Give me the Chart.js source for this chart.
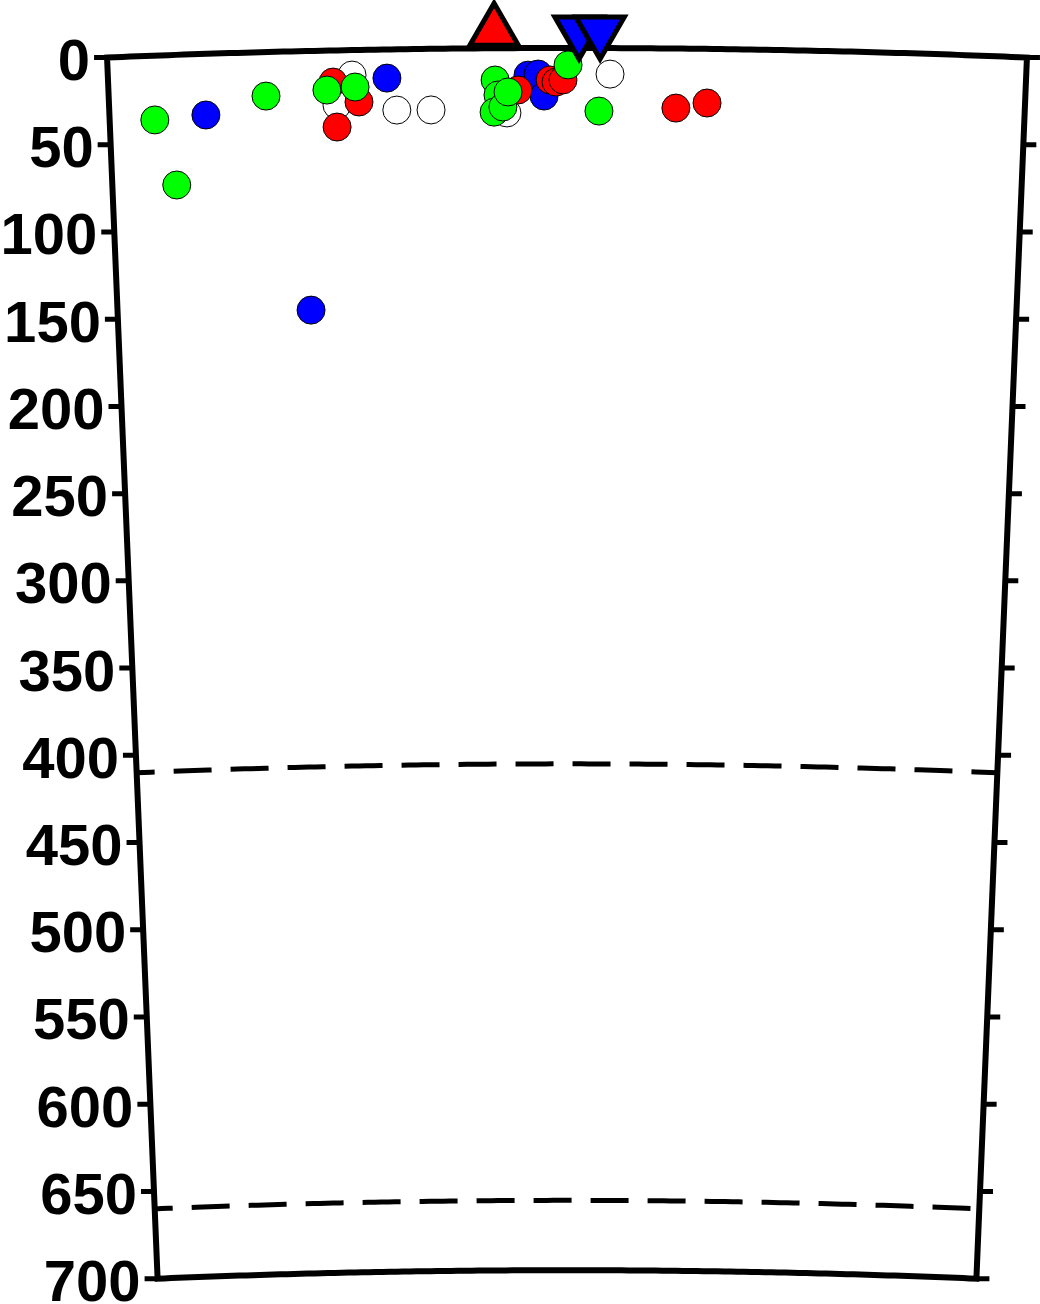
<!DOCTYPE html>
<html>
<head>
<meta charset="utf-8">
<script src="https://cdn.jsdelivr.net/npm/chart.js@4/dist/chart.umd.min.js"></script>
<style>
html,body{margin:0;padding:0;background:#fff;}
#wrap{width:1040px;height:1304px;position:relative;}
</style>
</head>
<body>
<div id="wrap"><canvas id="c" width="1040" height="1304"></canvas></div>
<script>
// ---- data (distance along profile in km, depth in km) ----
const EARTH_R = 6371;
const profileHalfWidth = 263.5;            // km either side of profile centre
const depthTicks = [0,50,100,150,200,250,300,350,400,450,500,550,600,650,700];
const discontinuityDepths = [410, 660];

const greenDist  = [-237.5,-226.2,-173.1,-138.0,-121.8,-41.3,-39.7,-42.0,-36.9,-33.9,0.6,18.4];
const greenDepth = [36.8,74.5,25.2,22.6,21.2,18.2,26.8,36.6,33.7,25.1,9.7,36.1];

const blueDist   = [-208.0,-150.1,-103.4,-22.4,-16.6,-13.2];
const blueDepth  = [35.0,148.4,16.4,15.5,14.9,27.5];

const redDist    = [-134.4,-119.7,-132.6,-28.2,-9.7,-6.3,-2.3,62.7,80.6];
const redDepth   = [18.1,29.8,43.9,24.0,18.3,19.5,18.3,34.1,31.0];

const whiteDist  = [-123.4,-132.4,-98.0,-78.3,-34.6,24.7];
const whiteDepth = [14.3,31.3,34.8,35.0,37.1,14.9];

const volcanoDist  = [-41.7];
const volcanoDepth = [-9.7];
const stationDist  = [6.9, 18.9];
const stationDepth = [-9.7, -9.7];

// polar (distance, depth) -> cartesian km in the section plane
function toXY(s, d) {
  const th = s / EARTH_R, r = EARTH_R - d;
  return { x: r * Math.sin(th), y: EARTH_R - r * Math.cos(th) };
}
function pts(ds, dd) { return ds.map((s, i) => toXY(s, dd[i])); }

const framePlugin = {
  id: 'frame',
  beforeDatasetsDraw(chart) {
    const ctx = chart.ctx, xs = chart.scales.x, ys = chart.scales.y;
    const W = profileHalfWidth, maxD = depthTicks[depthTicks.length - 1];
    const P = (s, d) => { const q = toXY(s, d); return [xs.getPixelForValue(q.x), ys.getPixelForValue(q.y)]; };
    const N = 120;
    ctx.save();
    ctx.strokeStyle = '#000';
    ctx.lineWidth = 6;
    ctx.lineJoin = 'miter';
    ctx.lineCap = 'butt';
    // outline
    ctx.beginPath();
    for (let i = 0; i <= N; i++) {
      const p = P(-W + 2 * W * i / N, 0);
      if (i === 0) ctx.moveTo(p[0], p[1]); else ctx.lineTo(p[0], p[1]);
    }
    let p = P(W, maxD); ctx.lineTo(p[0], p[1]);
    for (let i = N; i >= 0; i--) {
      const q = P(-W + 2 * W * i / N, maxD);
      ctx.lineTo(q[0], q[1]);
    }
    ctx.closePath();
    ctx.stroke();
    // ticks
    ctx.lineWidth = 5;
    ctx.beginPath();
    depthTicks.forEach(d => {
      const l = P(-W, d), r = P(W, d);
      ctx.moveTo(l[0] - 13, l[1]); ctx.lineTo(l[0], l[1]);
      ctx.moveTo(r[0], r[1]); ctx.lineTo(r[0] + 13, r[1]);
    });
    ctx.stroke();
    // discontinuities (dashed)
    ctx.setLineDash([38, 19]);
    discontinuityDepths.forEach(d => {
      ctx.beginPath();
      ctx.lineDashOffset = 20;
      for (let i = 0; i <= N; i++) {
        const q = P(-W + 2 * W * i / N, d);
        if (i === 0) ctx.moveTo(q[0], q[1]); else ctx.lineTo(q[0], q[1]);
      }
      ctx.stroke();
    });
    ctx.setLineDash([]);
    // depth labels
    ctx.fillStyle = '#000';
    ctx.font = 'bold 58px "Liberation Sans", Arial, Helvetica, sans-serif';
    ctx.textAlign = 'right';
    ctx.textBaseline = 'alphabetic';
    depthTicks.forEach(d => {
      const l = P(-W, d);
      ctx.fillText(String(d), l[0] - 17, l[1] + 22.5);
    });
    ctx.restore();
  }
};

const circle = (data, fill, order) => ({
  data, backgroundColor: fill, borderColor: '#000', borderWidth: 1,
  pointRadius: 14, pointHoverRadius: 14, pointStyle: 'circle', order, clip: false
});

new Chart(document.getElementById('c'), {
  type: 'scatter',
  data: {
    datasets: [
      circle(pts(whiteDist, whiteDepth), '#ffffff', 6),
      circle(pts(blueDist, blueDepth), '#0000ff', 5),
      circle(pts(redDist, redDepth), '#ff0000', 4),
      circle(pts(greenDist, greenDepth), '#00ff00', 3),
      { data: pts(stationDist, stationDepth), backgroundColor: '#0000ff', borderColor: '#000',
        borderWidth: 5, pointRadius: 28, pointHoverRadius: 28, pointStyle: 'triangle', rotation: 180, order: 2, clip: false },
      { data: pts(volcanoDist, volcanoDepth), backgroundColor: '#ff0000', borderColor: '#000',
        borderWidth: 5, pointRadius: 28, pointHoverRadius: 28, pointStyle: 'triangle', rotation: 0, order: 1, clip: false }
    ]
  },
  options: {
    responsive: false,
    devicePixelRatio: 1,
    animation: false,
    events: [],
    layout: { padding: 0, autoPadding: false },
    plugins: { legend: { display: false }, tooltip: { enabled: false } },
    scales: {
      x: { type: 'linear', display: false, min: -567 / 1.746, max: 473 / 1.746 },
      y: { type: 'linear', display: false, reverse: true, min: -48 / 1.746, max: 1256 / 1.746 }
    }
  },
  plugins: [framePlugin]
});
</script>
</body>
</html>
